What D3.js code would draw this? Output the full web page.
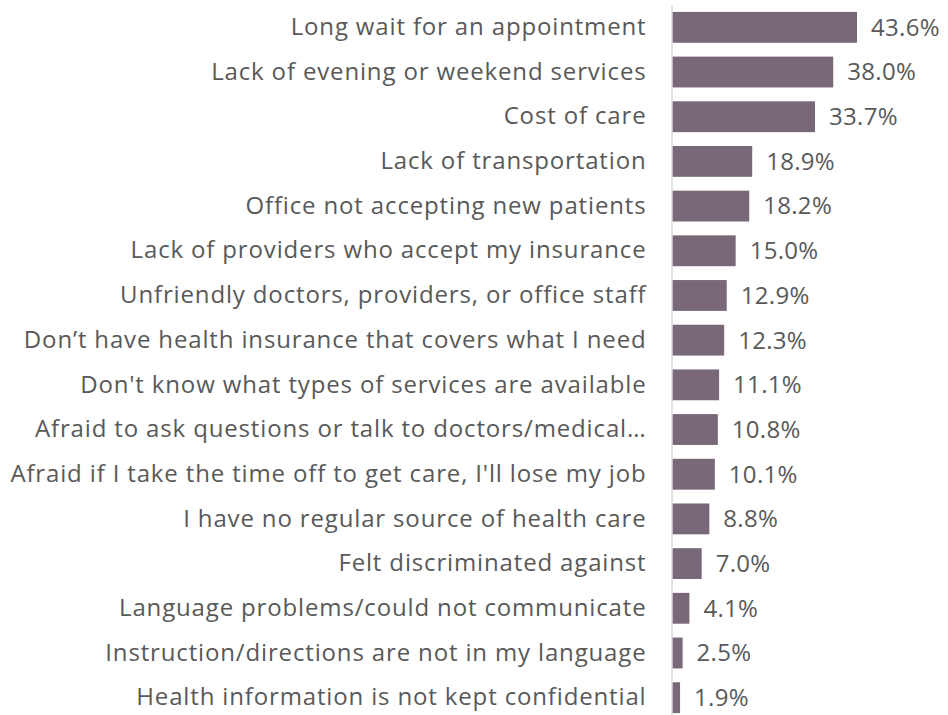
<!DOCTYPE html>
<html>
<head>
<meta charset="utf-8">
<script src="https://cdn.jsdelivr.net/npm/d3@7"></script>
<style>
  body { margin: 0; background: #fff; }
  text { font-family: "Open Sans", sans-serif; fill: #595959; }
</style>
</head>
<body>
<script>
// chart data
var barriers = [
    "Long wait for an appointment",
    "Lack of evening or weekend services",
    "Cost of care",
    "Lack of transportation",
    "Office not accepting new patients",
    "Lack of providers who accept my insurance",
    "Unfriendly doctors, providers, or office staff",
    "Don\u2019t have health insurance that covers what I need",
    "Don't know what types of services are available",
    "Afraid to ask questions or talk to doctors/medical\u2026",
    "Afraid if I take the time off to get care, I'll lose my job",
    "I have no regular source of health care",
    "Felt discriminated against",
    "Language problems/could not communicate",
    "Instruction/directions are not in my language",
    "Health information is not kept confidential"
];
var percents = [43.6, 38.0, 33.7, 18.9, 18.2, 15.0, 12.9, 12.3, 11.1, 10.8, 10.1, 8.8, 7.0, 4.1, 2.5, 1.9];

var w = 948, h = 715;
var left = 672;

var svg = d3.select("body").append("svg")
    .attr("width", w)
    .attr("height", h);

// x scale: percent to pixels
var x = d3.scaleLinear()
    .domain([0, 43.6])
    .range([left, 857]);

var y = d3.scaleBand()
    .domain(barriers)
    .range([5, 720])
    .paddingInner(0.31)
    .paddingOuter(0.155);

var rows = barriers.map(function (b, i) {
    return { label: b, value: percents[i] };
});

// bars
svg.selectAll(".bar")
    .data(rows)
    .enter()
    .append("rect")
    .attr("class", "bar")
    .attr("x", x(0))
    .attr("y", function (d) { return y(d.label); })
    .attr("width", function (d) { return x(d.value) - x(0); })
    .attr("height", y.bandwidth())
    .style("fill", "#786878");

// category axis, vertical line on the left of the bars
var axis = svg.append("g")
    .attr("transform", "translate(" + (left - 0.5) + ",0)")
    .call(d3.axisLeft(y).tickSize(0).tickPadding(25));
axis.select(".domain").attr("stroke", "#d9d9d9").attr("stroke-width", 1.5);
axis.selectAll("text")
    .attr("font-size", 24)
    .attr("fill", "#595959")
    .style("letter-spacing", "0.85px")
    .style("font-family", "'Open Sans', sans-serif");

// value labels
svg.selectAll(".val")
    .data(rows)
    .enter()
    .append("text")
    .attr("class", "val")
    .attr("x", function (d) { return x(d.value) + 14; })
    .attr("y", function (d) { return y(d.label) + y.bandwidth() / 2; })
    .attr("dy", "0.35em")
    .attr("font-size", 24)
    .style("letter-spacing", "0.3px")
    .text(function (d) { return d.value.toFixed(1) + "%"; });
</script>
</body>
</html>
